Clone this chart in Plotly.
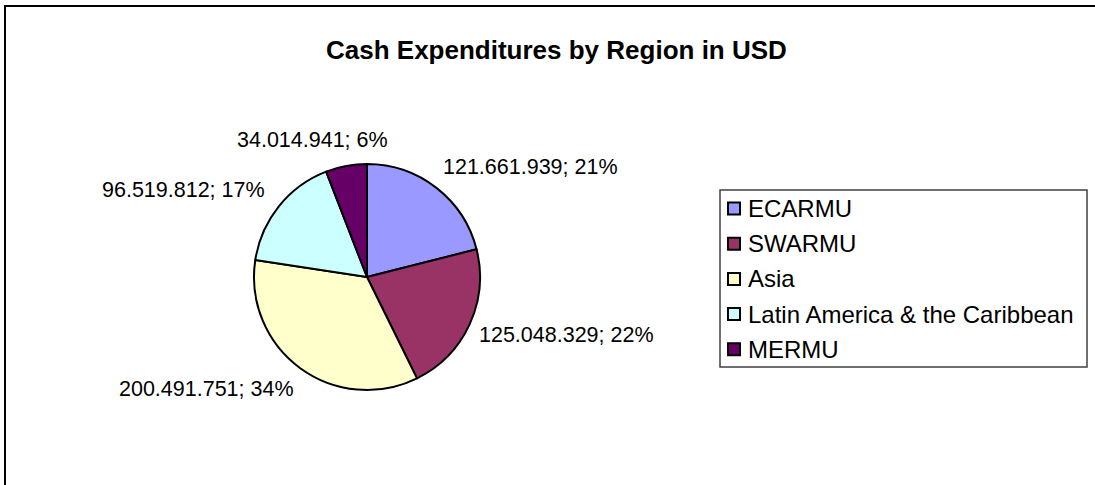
import math
import plotly.graph_objects as go

# ---- data ----
categories = ["ECARMU", "SWARMU", "Asia", "Latin America & the Caribbean", "MERMU"]
values = [121661939, 125048329, 200491751, 96519812, 34014941]
percents = [21, 22, 34, 17, 6]
colors = ["#9999FF", "#993366", "#FFFFCC", "#CCFFFF", "#660066"]
title_text = "Cash Expenditures by Region in USD"

# ---- layout geometry (pixels) ----
W, H = 1095, 485
CX, CY, R = 367, 277, 113
FONT = "Liberation Sans, Arial, sans-serif"
LABEL_SIZE = 21.5
LABEL_HALF_W = 87
LEG_X0, LEG_X1, LEG_Y0, LEG_Y1 = 720, 1087, 190, 367
LEG_ROW0, LEG_STEP, SW = 208.5, 35.2, 12
LEG_FONT = 24


def px(x):
    return x / W


def py(y):
    return 1 - y / H


def fmt(v):
    return f"{v:,}".replace(",", ".")


fig = go.Figure()
fig.add_trace(go.Pie(
    labels=categories,
    values=values,
    sort=False,
    direction="clockwise",
    rotation=0,
    textinfo="none",
    showlegend=False,
    marker=dict(colors=colors, line=dict(color="#000000", width=2)),
    domain=dict(x=[px(CX - R), px(CX + R)], y=[py(CY + R), py(CY - R)]),
))

annotations = []
shapes = []

# data labels outside the slices
total = sum(values)
cum = 0
for v, p in zip(values, percents):
    mid = (cum + v / 2) / total * 2 * math.pi
    cum += v
    s, c = math.sin(mid), math.cos(mid)
    ax = CX + 1.1 * R * s
    ay = CY - 1.23 * R * c
    f = max(-1.0, min(1.0, s / 0.5))
    xc = ax + LABEL_HALF_W * f
    annotations.append(dict(
        x=px(xc), y=py(ay), xref="paper", yref="paper",
        xanchor="center", yanchor="middle", showarrow=False,
        text=f"{fmt(v)}; {p}%",
        font=dict(family=FONT, size=LABEL_SIZE, color="#000000"),
    ))

# title
annotations.append(dict(
    x=px(556), y=py(50), xref="paper", yref="paper",
    xanchor="center", yanchor="middle", showarrow=False,
    text=f"<b>{title_text}</b>",
    font=dict(family=FONT, size=26, color="#000000"),
))

# chart border
shapes.append(dict(type="rect", xref="paper", yref="paper",
                   x0=px(5), x1=px(1105), y0=py(495), y1=py(6),
                   line=dict(color="#000000", width=2), fillcolor="rgba(0,0,0,0)"))

# legend box
shapes.append(dict(type="rect", xref="paper", yref="paper",
                   x0=px(LEG_X0), x1=px(LEG_X1), y0=py(LEG_Y1), y1=py(LEG_Y0),
                   line=dict(color="#404040", width=1.5), fillcolor="#FFFFFF"))

for i, (cat, col) in enumerate(zip(categories, colors)):
    yc = LEG_ROW0 + i * LEG_STEP
    shapes.append(dict(type="rect", xref="paper", yref="paper",
                       x0=px(728), x1=px(728 + SW),
                       y0=py(yc + SW / 2), y1=py(yc - SW / 2),
                       line=dict(color="#000000", width=2), fillcolor=col))
    annotations.append(dict(
        x=px(746), y=py(yc), xref="paper", yref="paper",
        xanchor="left", yanchor="middle", showarrow=False,
        text=cat, font=dict(family=FONT, size=LEG_FONT, color="#000000"),
    ))

fig.update_layout(
    width=W, height=H,
    margin=dict(l=0, r=0, t=0, b=0),
    paper_bgcolor="#FFFFFF",
    plot_bgcolor="#FFFFFF",
    annotations=annotations,
    shapes=shapes,
)

fig.write_html(
    "out.html",
    config={"displayModeBar": False},
    post_script="document.body.style.margin='0';document.body.style.overflow='hidden';",
)
